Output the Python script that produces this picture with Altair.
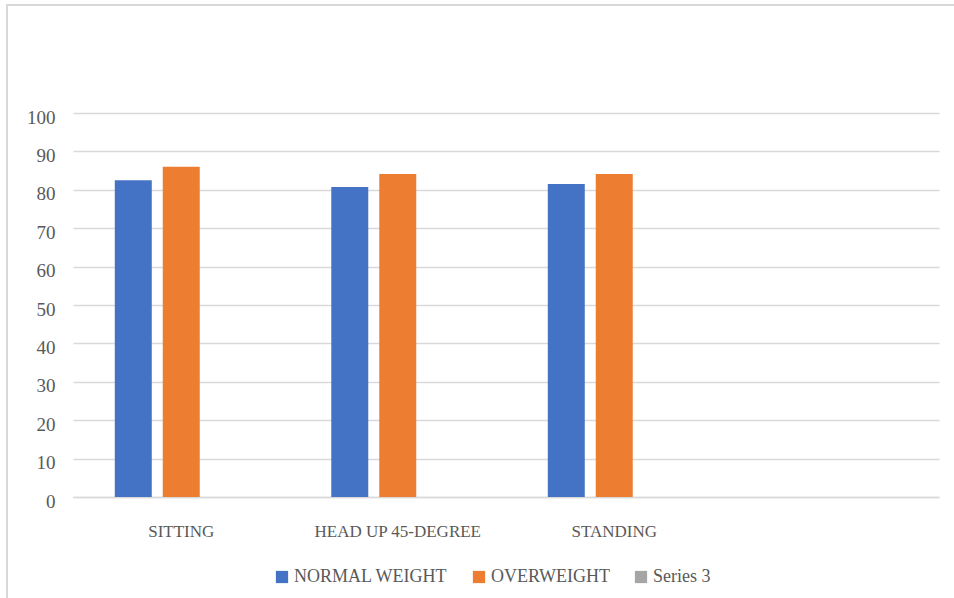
import altair as alt
import pandas as pd

# Categories along the x axis (the fourth slot is left empty)
positions = ["SITTING", "HEAD UP 45-DEGREE", "STANDING", " "]
# Series names
series = ["NORMAL WEIGHT", "OVERWEIGHT", "Series 3"]
colors = ["#4472C4", "#ED7D31", "#A5A5A5"]

# Values per series for the three measured positions
normal_weight = [82.5, 80.7, 81.5]
overweight = [86.0, 84.1, 84.1]

rows = []
for pos, v in zip(positions[:3], normal_weight):
    rows.append({"position": pos, "series": series[0], "value": v})
for pos, v in zip(positions[:3], overweight):
    rows.append({"position": pos, "series": series[1], "value": v})
df = pd.DataFrame(rows)

serif = "'Liberation Serif', 'Times New Roman', 'DejaVu Serif', serif"

bars = alt.Chart(df).mark_bar().encode(
    x=alt.X(
        "position:N",
        sort=positions,
        scale=alt.Scale(domain=positions, paddingInner=0.386, paddingOuter=0.193),
        axis=alt.Axis(
            title=None,
            labelAngle=0,
            labelFont=serif,
            labelFontSize=17,
            labelColor="#595959",
            labelPadding=26,
            ticks=False,
            domain=True,
            domainColor="#D9D9D9",
            domainWidth=1.5,
            grid=False,
        ),
    ),
    xOffset=alt.XOffset(
        "series:N",
        scale=alt.Scale(domain=series, paddingInner=0.229, paddingOuter=0),
    ),
    y=alt.Y(
        "value:Q",
        scale=alt.Scale(domain=[0, 100], nice=False),
        axis=alt.Axis(
            title=None,
            values=list(range(0, 101, 10)),
            labelFont=serif,
            labelFontSize=19,
            labelColor="#595959",
            labelPadding=18,
            labelOffset=4,
            ticks=False,
            domain=False,
            grid=True,
            gridColor="#D9D9D9",
            gridWidth=1.5,
        ),
    ),
    color=alt.Color(
        "series:N",
        scale=alt.Scale(domain=series, range=colors),
        legend=alt.Legend(
            title=None,
            orient="none",
            legendX=200,
            legendY=455,
            direction="horizontal",
            symbolType="square",
            symbolSize=150,
            symbolStrokeWidth=0,
            labelFont=serif,
            labelFontSize=18,
            labelColor="#595959",
            labelOffset=3,
            columnPadding=22,
        ),
    ),
)

# Light frame around the whole chart area
frame = alt.Chart(pd.DataFrame({"f": [0]})).mark_rect(
    fill=None, stroke="#D9D9D9", strokeWidth=2
).encode(
    x=alt.value(-66), x2=alt.value(900),
    y=alt.value(-108), y2=alt.value(520),
)

chart = alt.layer(frame, bars).properties(
    width=866,
    height=384,
    padding={"left": 73, "top": 113, "right": 15, "bottom": 101},
    autosize=alt.AutoSizeParams(type="none"),
    background="white",
).configure_view(stroke=None)

chart.save("out.html", embed_options={"renderer": "svg", "actions": False})
